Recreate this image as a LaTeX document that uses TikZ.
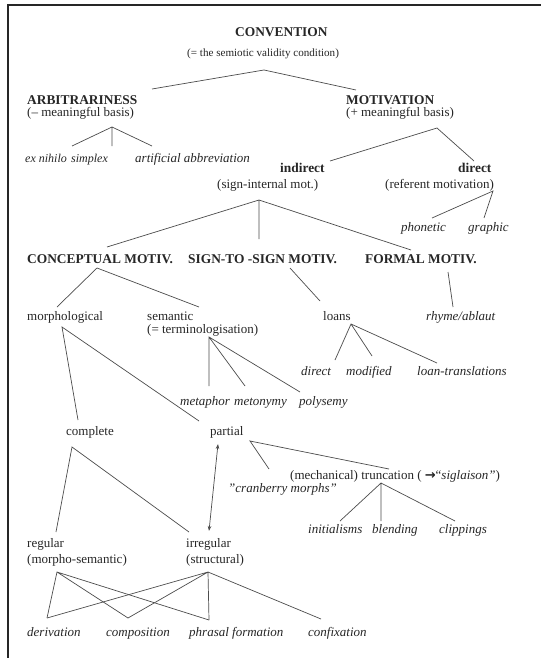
\documentclass[tikz,border=0pt]{standalone}
\usepackage{fontspec}
\setmainfont{Liberation Serif}
\newfontfamily\symfont{DejaVu Sans}
\usetikzlibrary{arrows.meta}
\begin{document}
\begin{tikzpicture}[x=1pt,y=-1pt,
  every node/.style={inner sep=0pt,anchor=base west,text=black!85},
  rm/.style={font=\fontsize{13}{15}\selectfont},
  bf/.style={font=\fontsize{13.4}{15}\selectfont\bfseries},
  it/.style={font=\fontsize{13}{15}\selectfont\itshape},
  itsm/.style={font=\fontsize{12}{14}\selectfont\itshape},
  small/.style={font=\fontsize{11.1}{13}\selectfont},
  conn/.style={draw=black!70,line width=0.7pt},
  frame/.style={draw=black!85,line width=1.2pt}]
\useasboundingbox (0,0) rectangle (541,658);
\fill[white] (0,0) rectangle (541,658);
\draw[frame] (8,658) -- (8,5) -- (541,5);

% texts
\node[bf] (conv) at (235,37) {CONVENTION};
\node[small] (convsub) at (187,57) {(= the semiotic validity condition)};
\node[bf] (arb) at (27,105) {ARBITRARINESS};
\node[rm] (arbsub) at (27,117) {(– meaningful basis)};
\node[bf] (mot) at (346,105) {MOTIVATION};
\node[rm] (motsub) at (346,117) {(+ meaningful basis)};
\node[itsm] (exn) at (25,162) {ex nihilo};
\node[itsm] (simp) at (71,162) {simplex};
\node[it] (artab) at (135,162) {artificial abbreviation};
\node[bf] (ind) at (280,172) {indirect};
\node[rm] (indsub) at (217,188) {(sign-internal mot.)};
\node[bf] (dir) at (458,172) {direct};
\node[rm] (dirsub) at (385,188) {(referent motivation)};
\node[it] (phon) at (401,231) {phonetic};
\node[it] (graph) at (468,231) {graphic};
\node[bf] (concm) at (27,263) {CONCEPTUAL MOTIV.};
\node[bf] (signm) at (188,263) {SIGN-TO -SIGN MOTIV.};
\node[bf] (formm) at (365,263) {FORMAL MOTIV.};
\node[rm] (morph) at (27,320) {morphological};
\node[rm] (sem) at (147,320) {semantic};
\node[rm] (semsub) at (147,333) {(= terminologisation)};
\node[rm] (loans) at (323,320) {loans};
\node[it] (rhyme) at (426,320) {rhyme/ablaut};
\node[it] (ldir) at (301,375) {direct};
\node[it] (lmod) at (346,375) {modified};
\node[it] (ltrans) at (417,375) {loan-translations};
\node[it] (meta) at (180,405) {metaphor};
\node[it] (meto) at (234,405) {metonymy};
\node[it] (poly) at (299,405) {polysemy};
\node[rm] (compl) at (66,435) {complete};
\node[rm] (part) at (210,435) {partial};
\node[rm] (trunc) at (290,479) {(mechanical) truncation ( {\symfont\fontsize{13}{15}\selectfont\bfseries →}“\textit{siglaison”})};
\node[it] (cran) at (228,492) {"cranberry morphs"};
\node[it] (init) at (308,533) {initialisms};
\node[it] (blend) at (372,533) {blending};
\node[it] (clip) at (439,533) {clippings};
\node[rm] (reg) at (27,547) {regular};
\node[rm] (regsub) at (27,563) {(morpho-semantic)};
\node[rm] (irr) at (186,547) {irregular};
\node[rm] (irrsub) at (186,563) {(structural)};
\node[it] (deriv) at (27,636) {derivation};
\node[it] (comp) at (106,636) {composition};
\node[it] (phr) at (189,636) {phrasal formation};
\node[it] (confix) at (308,636) {confixation};

% connector points
\coordinate (convB) at (264,70);
\coordinate (arbT) at (152,89);
\coordinate (motT) at (356,90);
\coordinate (arbB) at (112,127);
\coordinate (exnT) at (72,146);
\coordinate (simpT) at (112,146);
\coordinate (artabT) at (152,146);
\coordinate (motB) at (437,128);
\coordinate (indT) at (330,161);
\coordinate (dirT) at (474,161);
\coordinate (dirB) at (493,191);
\coordinate (phonT) at (432,218);
\coordinate (graphT) at (484,218);
\coordinate (indB) at (259,200);
\coordinate (concT) at (107,247);
\coordinate (signT) at (259,239);
\coordinate (formT) at (411,250);
\coordinate (concB) at (97,268);
\coordinate (morphT) at (57,307);
\coordinate (semT) at (199,307);
\coordinate (signB) at (290,268);
\coordinate (loansT) at (320,301);
\coordinate (formB) at (448,272);
\coordinate (rhymeT) at (453,307);
\coordinate (loansB) at (351,324);
\coordinate (ldirT) at (335,360);
\coordinate (lmodT) at (372,356);
\coordinate (ltransT) at (437,363);
\coordinate (semB) at (209,337);
\coordinate (metaT) at (209,386);
\coordinate (metoT) at (245,386);
\coordinate (polyT) at (300,392);
\coordinate (morphB) at (62,327);
\coordinate (complT) at (78,420);
\coordinate (partT) at (199,421);
\coordinate (complB) at (72,447);
\coordinate (regT) at (56,532);
\coordinate (irrT) at (189,532);
\coordinate (partB) at (250,441);
\coordinate (cranT) at (269,469);
\coordinate (truncT) at (389,469);
\coordinate (partA) at (218,444);
\coordinate (irrA) at (209,531);
\coordinate (truncB) at (381,483);
\coordinate (initT) at (340,521);
\coordinate (blendT) at (381,521);
\coordinate (clipT) at (455,521);
\coordinate (regB) at (57,572);
\coordinate (irrB) at (208,572);
\coordinate (derivT) at (47,618);
\coordinate (compT) at (128,618);
\coordinate (phrT) at (209,620);
\coordinate (confixT) at (321,619);

% connectors
\draw[conn] (arbT) -- (convB) -- (motT);
\draw[conn] (exnT) -- (arbB) -- (artabT) (arbB) -- (simpT);
\draw[conn] (indT) -- (motB) -- (dirT);
\draw[conn] (phonT) -- (dirB) -- (graphT);
\draw[conn] (concT) -- (indB) -- (formT) (indB) -- (signT);
\draw[conn] (morphT) -- (concB) -- (semT);
\draw[conn] (signB) -- (loansT);
\draw[conn] (formB) -- (rhymeT);
\draw[conn] (ldirT) -- (loansB) -- (ltransT) (loansB) -- (lmodT);
\draw[conn] (metaT) -- (semB) -- (polyT) (semB) -- (metoT);
\draw[conn] (complT) -- (morphB) -- (partT);
\draw[conn] (regT) -- (complB) -- (irrT);
\draw[conn] (cranT) -- (partB) -- (truncT);
\draw[conn,{Stealth[length=5pt,width=3.5pt]}-{Stealth[length=5pt,width=3.5pt]}] (partA) -- (irrA);
\draw[conn] (initT) -- (truncB) -- (clipT) (truncB) -- (blendT);
\draw[conn] (derivT) -- (regB) -- (phrT) (regB) -- (compT);
\draw[conn] (derivT) -- (irrB) -- (confixT) (irrB) -- (compT) (irrB) -- (phrT);
\end{tikzpicture}
\end{document}
